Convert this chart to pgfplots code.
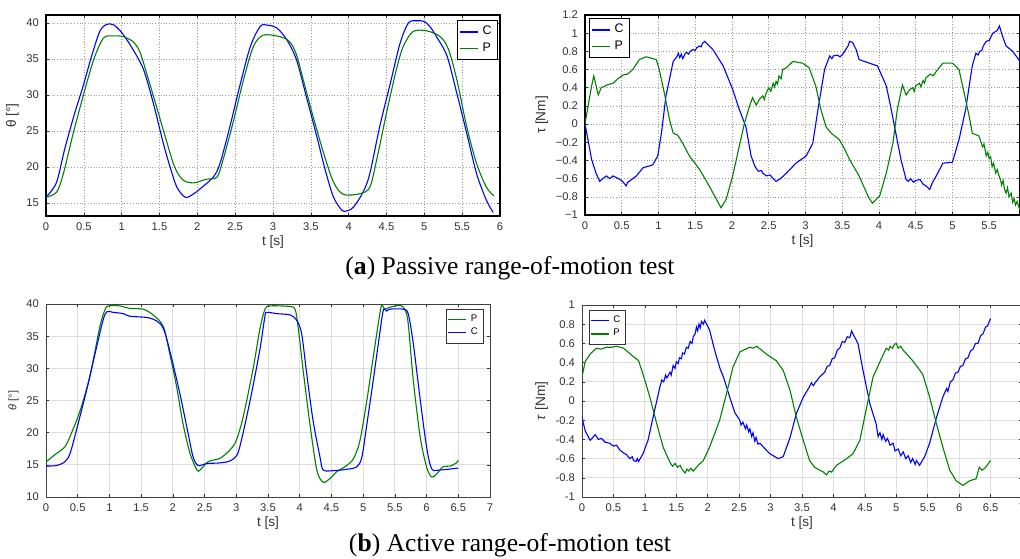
\documentclass[border=0pt]{standalone}
\usepackage{pgfplots}
\pgfplotsset{compat=1.18}
\usepackage{fontspec}
\setmainfont{Liberation Serif}
\newfontfamily\lsans{Liberation Sans}
\definecolor{mblue}{rgb}{0,0,1}
\definecolor{mgreen}{rgb}{0,0.5,0}
\pgfplotsset{
  matlab/.style={
    scale only axis,
    /pgf/number format/assume math mode=true,
    tick label style={font=\lsans\fontsize{5.6}{6}\selectfont, text=black!80},
    label style={font=\lsans\fontsize{6.8}{7}\selectfont, text=black!80},
    major tick length=1.6pt,
    tick style={black!80, line width=0.3pt},
    grid=major,
    xtick distance=0.5,
    legend cell align=left,
    legend image code/.code={\draw[#1, line width=0.6pt] (0pt,0pt) -- (9pt,0pt);},
    xlabel={t [s]},
    xlabel style={yshift=4.5pt},
    ylabel style={yshift=-3pt},
    every axis plot/.append style={line width=0.55pt},
  },
  oldgrid/.style={
    matlab,
    axis line style={black, line width=0.6pt},
    major grid style={densely dotted, black!40, line width=0.3pt},
    legend style={font=\lsans\fontsize{6.2}{6.5}\selectfont, inner sep=0.8pt,
      draw=black, line width=0.5pt, row sep=-1.5pt},
  },
  newgrid/.style={
    matlab,
    axis line style={black!75, line width=0.4pt},
    major grid style={solid, black!13, line width=0.4pt},
    legend style={font=\lsans\fontsize{4.8}{5}\selectfont, inner sep=0.6pt,
      draw=black!80, line width=0.4pt, row sep=-2pt},
  },
}
\begin{document}
\begin{tikzpicture}
\path[use as bounding box] (0,0) rectangle (510pt,279pt);

% ---- (a) left: angle
\begin{axis}[oldgrid, at={(23pt,171pt)}, anchor=south west,
  width=227pt, height=100.5pt,
  xmin=0, xmax=6, ymin=13.2, ymax=41.1,
  ytick={15,20,...,40},
  ylabel={θ [°]},
  legend style={at={(0.995,0.975)}, anchor=north east}]
\addplot[mblue, smooth] coordinates {
(0,15.8) (0.08,16.8) (0.15,18.2) (0.25,22.6) (0.38,27.5) (0.49,31.2) (0.6,35.3) (0.71,38.8) (0.8,39.8) (0.9,39.7)
(1.02,38.4) (1.15,36.3) (1.29,33.5) (1.42,28.8) (1.55,23.3) (1.64,20.0) (1.73,17.2) (1.84,15.8) (1.94,16.2)
(2.04,17.0) (2.21,18.6) (2.3,20.5) (2.43,25.6) (2.56,31.2) (2.7,36.7) (2.83,39.5) (2.92,39.7) (3.05,39.3)
(3.18,37.7) (3.31,34.9) (3.44,29.8) (3.58,24.2) (3.69,19.6) (3.8,15.8) (3.91,14.0) (3.97,13.9) (4.06,14.4)
(4.19,16.5) (4.28,19.1) (4.41,25.6) (4.55,31.6) (4.68,37.2) (4.79,40.0) (4.9,40.3) (5.0,40.2) (5.08,39.4)
(5.16,38.1) (5.3,35.4) (5.43,30.2) (5.56,24.7) (5.69,19.1) (5.82,15.4) (5.91,13.7)};
\addlegendentry{C}
\addplot[mgreen, smooth] coordinates {
(0,15.8) (0.14,16.5) (0.23,19.1) (0.36,24.7) (0.49,29.8) (0.63,34.9) (0.76,37.9) (0.89,38.2) (1.02,38.1)
(1.15,37.4) (1.24,36.0) (1.33,33.0) (1.46,28.4) (1.59,23.7) (1.7,20.0) (1.81,18.2) (1.95,17.8) (2.12,18.3)
(2.26,18.6) (2.34,21.0) (2.48,26.5) (2.61,32.1) (2.74,36.7) (2.87,38.3) (3.09,38.1) (3.22,37.4) (3.31,35.6)
(3.4,32.1) (3.53,27.0) (3.67,21.9) (3.8,17.9) (3.93,16.2) (4.15,16.3) (4.28,17.2) (4.37,21.0) (4.5,27.5)
(4.63,33.5) (4.72,36.7) (4.85,38.8) (5.03,38.9) (5.21,38.1) (5.32,36.3) (5.43,32.1) (5.56,25.6) (5.69,20.5)
(5.82,17.2) (5.92,16.0)};
\addlegendentry{P}
\end{axis}

% ---- (a) right: torque
\begin{axis}[oldgrid, at={(292.5pt,171.5pt)}, anchor=south west,
  width=217.5pt, height=100pt,
  xmin=0, xmax=5.92, ymin=-1, ymax=1.2,
  xtick={0,0.5,...,5.5},
  ytick={-1,-0.8,...,1.21},
  yticklabels={−1,−0.8,−0.6,−0.4,−0.2,0,0.2,0.4,0.6,0.8,1,1.2},
  ylabel={τ [Nm]},
  legend style={at={(0.01,0.985)}, anchor=north west}]
\addplot[mblue] coordinates {
(0,0) (0.04,-0.17) (0.09,-0.39) (0.15,-0.54) (0.2,-0.63) (0.24,-0.6) (0.29,-0.57) (0.34,-0.6) (0.38,-0.57)
(0.43,-0.59) (0.5,-0.62) (0.53,-0.65) (0.56,-0.68) (0.58,-0.64) (0.6,-0.63) (0.7,-0.57) (0.79,-0.48) (0.92,-0.45) (0.99,-0.35)
(1.04,-0.1) (1.1,0.3) (1.2,0.69) (1.25,0.74) (1.27,0.78) (1.29,0.73) (1.31,0.77) (1.33,0.72) (1.36,0.77) (1.38,0.79)
(1.41,0.77) (1.43,0.8) (1.47,0.82) (1.5,0.81) (1.52,0.84) (1.56,0.86) (1.58,0.85) (1.6,0.89) (1.63,0.91) (1.74,0.82) (1.88,0.64) (2.01,0.38)
(2.1,0.16) (2.19,-0.03) (2.26,-0.35) (2.31,-0.46) (2.34,-0.5) (2.36,-0.52) (2.4,-0.51) (2.42,-0.54) (2.47,-0.57) (2.52,-0.56)
(2.56,-0.6) (2.6,-0.63) (2.66,-0.6) (2.74,-0.54) (2.87,-0.43) (3.01,-0.35) (3.1,-0.21) (3.17,0.16)
(3.26,0.6) (3.33,0.75) (3.36,0.72) (3.38,0.75) (3.43,0.76) (3.47,0.74) (3.51,0.77) (3.58,0.86) (3.6,0.91) (3.64,0.9) (3.69,0.82)
(3.73,0.71) (3.87,0.67) (3.98,0.64) (4.1,0.42) (4.16,0.19) (4.23,-0.1) (4.3,-0.39) (4.37,-0.61)
(4.4,-0.63) (4.43,-0.6) (4.47,-0.64) (4.5,-0.62) (4.56,-0.61) (4.6,-0.66) (4.64,-0.68) (4.69,-0.72) (4.73,-0.64) (4.78,-0.57) (4.87,-0.43)
(5.0,-0.42) (5.09,-0.17) (5.18,0.16) (5.27,0.64) (5.32,0.78) (5.35,0.76) (5.37,0.8) (5.4,0.81) (5.42,0.86) (5.46,0.91)
(5.5,0.92) (5.55,1.0) (5.61,1.03) (5.64,1.08) (5.68,0.97) (5.73,0.86) (5.82,0.8) (5.92,0.69)};
\addlegendentry{C}
\addplot[mgreen] coordinates {
(0,0) (0.04,0.19) (0.09,0.42) (0.12,0.53) (0.18,0.32) (0.22,0.4) (0.3,0.43) (0.38,0.45) (0.45,0.5)
(0.52,0.54) (0.58,0.55) (0.65,0.6) (0.74,0.71) (0.83,0.74) (0.97,0.71) (1.01,0.6) (1.08,0.34) (1.15,0.05)
(1.2,-0.1) (1.26,-0.12) (1.33,-0.21) (1.42,-0.35) (1.56,-0.5) (1.69,-0.68) (1.79,-0.83) (1.85,-0.92)
(1.92,-0.83) (2.01,-0.57) (2.1,-0.24) (2.17,0.01) (2.24,0.2) (2.28,0.29) (2.33,0.21) (2.38,0.28)
(2.42,0.31) (2.44,0.27) (2.46,0.33) (2.5,0.4) (2.53,0.36) (2.56,0.45) (2.58,0.41) (2.6,0.47) (2.62,0.44) (2.64,0.53) (2.67,0.5) (2.69,0.6) (2.74,0.62)
(2.83,0.69) (2.96,0.67) (3.05,0.62) (3.14,0.42) (3.21,0.16) (3.28,-0.03) (3.35,-0.1) (3.46,-0.17)
(3.53,-0.27) (3.6,-0.39) (3.73,-0.57) (3.85,-0.79) (3.91,-0.87) (4.01,-0.79) (4.1,-0.54) (4.19,-0.21)
(4.25,0.16) (4.32,0.43) (4.37,0.32) (4.42,0.38) (4.46,0.4) (4.48,0.36) (4.5,0.42) (4.55,0.45) (4.57,0.41) (4.6,0.48) (4.62,0.45) (4.64,0.51)
(4.7,0.55) (4.74,0.53) (4.78,0.58) (4.87,0.67) (5.0,0.67) (5.09,0.6) (5.16,0.34) (5.23,0.08) (5.27,-0.1)
(5.36,-0.13) (5.41,-0.25) (5.43,-0.22) (5.46,-0.35) (5.48,-0.31) (5.5,-0.38) (5.52,-0.36) (5.54,-0.47) (5.56,-0.43) (5.59,-0.54) (5.61,-0.5) (5.63,-0.56) (5.65,-0.6) (5.67,-0.67)
(5.69,-0.62) (5.71,-0.72) (5.73,-0.76) (5.75,-0.7) (5.77,-0.8) (5.8,-0.76) (5.82,-0.86) (5.84,-0.82) (5.86,-0.89) (5.88,-0.85) (5.92,-0.95)};
\addlegendentry{P}
\end{axis}
\node[font=\fontsize{12.8}{14}\selectfont] at (255pt,145pt) {(\textbf{a}) Passive range-of-motion test};

% ---- (b) left: angle
\begin{axis}[newgrid, at={(23pt,30.5pt)}, anchor=south west,
  width=222pt, height=96.5pt,
  xmin=0, xmax=7, ymin=10, ymax=40,
  ytick={10,15,...,40},
  ylabel={\textit{θ} [°]},
  ylabel style={font=\lsans\fontsize{5.5}{6}\selectfont},
  legend style={at={(0.985,0.975)}, anchor=north east}]
\addplot[mgreen, smooth] coordinates {
(0,15.45) (0.17,16.8) (0.3,17.8) (0.4,19.9) (0.54,23.5) (0.69,28.7) (0.85,36.5) (0.93,39.1) (0.98,39.7)
(1.17,39.7) (1.32,39.3) (1.53,39.2) (1.69,38.3) (1.85,36.5) (1.95,32.3) (2.06,27.1) (2.16,21.4) (2.27,16.8)
(2.38,14.2) (2.43,14.2) (2.56,15.5) (2.74,16.0) (2.9,17.3) (3.0,18.8) (3.11,22.5) (3.27,30.2) (3.37,36.0)
(3.45,39.1) (3.53,39.7) (3.85,39.6) (3.93,39.1) (3.98,36.0) (4.06,29.2) (4.16,21.4) (4.27,14.2) (4.37,12.3)
(4.48,12.9) (4.58,13.9) (4.74,14.9) (4.85,16.0) (4.95,18.8) (5.06,25.1) (5.16,31.8) (5.24,37.0) (5.29,39.8)
(5.34,39.2) (5.42,39.5) (5.58,39.8) (5.66,39.1) (5.71,37.0) (5.79,28.2) (5.9,19.3) (6.0,14.7) (6.08,13.1)
(6.16,13.6) (6.26,14.7) (6.37,14.8) (6.47,15.3) (6.5,15.7)};
\addlegendentry{P}
\addplot[mblue, smooth] coordinates {
(0,14.8) (0.17,14.9) (0.3,15.5) (0.38,16.8) (0.48,20.4) (0.64,26.6) (0.8,33.4) (0.9,37.5) (0.96,38.8)
(1.06,38.7) (1.22,38.5) (1.32,38.1) (1.59,37.9) (1.74,37.4) (1.85,36.2) (1.95,32.8) (2.11,26.1) (2.24,19.9)
(2.32,16.2) (2.4,14.9) (2.53,15.2) (2.74,15.3) (2.9,15.6) (3.01,16.5) (3.08,18.8) (3.22,25.1) (3.37,32.8)
(3.45,38.0) (3.48,38.7) (3.64,38.5) (3.85,38.3) (3.95,37.5) (4.03,35.4) (4.11,29.2) (4.21,21.9) (4.32,16.2)
(4.37,14.2) (4.53,14.1) (4.74,14.3) (4.9,14.7) (4.98,16.2) (5.06,21.4) (5.16,28.2) (5.27,36.0) (5.32,39.1)
(5.37,38.9) (5.42,39.2) (5.63,39.2) (5.71,38.5) (5.79,33.9) (5.9,25.1) (6.0,17.8) (6.08,14.4) (6.21,14.2)
(6.5,14.5)};
\addlegendentry{C}
\end{axis}

% ---- (b) right: torque
\begin{axis}[newgrid, at={(291pt,30.5pt)}, anchor=south west,
  width=220pt, height=96pt,
  xmin=0, xmax=7, ymin=-1, ymax=1,
  ytick={-1,-0.8,...,1.01},
  ylabel={\textit{τ} [Nm]},
  legend style={at={(0.015,0.975)}, anchor=north west}]
\addplot[mblue] coordinates {
(0,-0.17) (0.05,-0.31) (0.13,-0.41) (0.21,-0.35) (0.26,-0.4) (0.31,-0.39) (0.37,-0.43) (0.44,-0.44)
(0.5,-0.47) (0.55,-0.46) (0.6,-0.51) (0.66,-0.54) (0.71,-0.56) (0.76,-0.6) (0.8,-0.58) (0.82,-0.62) (0.86,-0.63) (0.88,-0.6) (0.9,-0.63)
(0.97,-0.55) (1.05,-0.41) (1.13,-0.17) (1.24,0.15) (1.27,0.22) (1.3,0.2) (1.33,0.27) (1.35,0.24) (1.4,0.3) (1.42,0.27) (1.45,0.37) (1.48,0.34) (1.5,0.41)
(1.53,0.39) (1.55,0.45) (1.58,0.44) (1.6,0.5) (1.63,0.49) (1.66,0.56) (1.69,0.55) (1.72,0.62) (1.75,0.6) (1.77,0.67) (1.8,0.7) (1.82,0.77) (1.84,0.73) (1.86,0.8) (1.88,0.76) (1.9,0.83) (1.93,0.8) (1.95,0.84)
(2.03,0.74) (2.09,0.58) (2.14,0.46) (2.2,0.33) (2.25,0.25) (2.35,0.04) (2.43,-0.12) (2.51,-0.2) (2.53,-0.25) (2.56,-0.22)
(2.6,-0.29) (2.62,-0.25) (2.65,-0.32) (2.67,-0.29) (2.7,-0.37) (2.72,-0.33) (2.75,-0.42) (2.77,-0.38) (2.8,-0.45) (2.83,-0.44) (2.9,-0.49) (2.99,-0.55) (3.12,-0.6) (3.2,-0.58)
(3.31,-0.38) (3.41,-0.13) (3.52,0.04) (3.62,0.15) (3.65,0.19) (3.68,0.16) (3.72,0.2) (3.78,0.25) (3.86,0.3) (3.9,0.36) (3.94,0.37) (3.98,0.44) (4.02,0.45)
(4.06,0.53) (4.1,0.55) (4.14,0.62) (4.18,0.61) (4.22,0.67) (4.26,0.66) (4.29,0.73) (4.31,0.7) (4.39,0.6) (4.47,0.32) (4.58,-0.03) (4.68,-0.24) (4.71,-0.37) (4.74,-0.33)
(4.77,-0.4) (4.79,-0.35) (4.83,-0.42) (4.86,-0.39) (4.9,-0.46) (4.95,-0.44) (4.98,-0.52) (5.03,-0.5) (5.07,-0.57) (5.11,-0.53) (5.15,-0.6) (5.19,-0.57) (5.23,-0.64) (5.26,-0.6) (5.3,-0.66) (5.32,-0.62)
(5.37,-0.67) (5.45,-0.58) (5.53,-0.44) (5.64,-0.17) (5.74,0.04) (5.8,0.13) (5.82,0.1) (5.86,0.2) (5.9,0.22) (5.94,0.29) (5.98,0.3)
(6.02,0.36) (6.06,0.37) (6.1,0.44) (6.14,0.45) (6.18,0.52) (6.22,0.54) (6.26,0.6) (6.3,0.6) (6.34,0.68) (6.38,0.7) (6.42,0.77) (6.45,0.78) (6.5,0.86)};
\addlegendentry{C}
\addplot[mgreen] coordinates {
(0,0.25) (0.05,0.41) (0.13,0.49) (0.23,0.55) (0.3,0.54) (0.39,0.56) (0.47,0.56) (0.55,0.57) (0.66,0.55)
(0.75,0.5) (0.82,0.46) (0.9,0.42) (0.97,0.28) (1.08,0.04) (1.19,-0.24) (1.29,-0.48) (1.4,-0.64) (1.44,-0.68) (1.48,-0.65)
(1.52,-0.69) (1.56,-0.67) (1.6,-0.72) (1.64,-0.75) (1.67,-0.71) (1.7,-0.73) (1.73,-0.7) (1.77,-0.73) (1.85,-0.67) (1.93,-0.62) (2.03,-0.48) (2.19,-0.2)
(2.3,0.08) (2.4,0.35) (2.51,0.51) (2.6,0.54) (2.67,0.56) (2.72,0.55) (2.78,0.57) (2.93,0.49) (3.09,0.42) (3.2,0.32)
(3.31,0.11) (3.41,-0.17) (3.52,-0.41) (3.62,-0.62) (3.7,-0.69) (3.78,-0.72) (3.84,-0.74) (3.89,-0.77) (3.93,-0.73) (3.97,-0.74)
(4.05,-0.67) (4.21,-0.6) (4.31,-0.55) (4.42,-0.41) (4.53,-0.06) (4.63,0.25) (4.74,0.41) (4.84,0.55)
(4.88,0.53) (4.9,0.57) (4.94,0.55) (4.97,0.59) (5.0,0.6) (5.03,0.55) (5.07,0.57) (5.11,0.53) (5.26,0.42) (5.42,0.28) (5.53,0.04) (5.64,-0.24) (5.74,-0.48)
(5.85,-0.72) (5.95,-0.83) (6.06,-0.88) (6.17,-0.83) (6.27,-0.81) (6.32,-0.69) (6.36,-0.72) (6.41,-0.7)
(6.5,-0.62)};
\addlegendentry{P}
\end{axis}
\node[font=\fontsize{12.8}{14}\selectfont] at (255pt,6.5pt) {(\textbf{b}) Active range-of-motion test};
\end{tikzpicture}
\end{document}
